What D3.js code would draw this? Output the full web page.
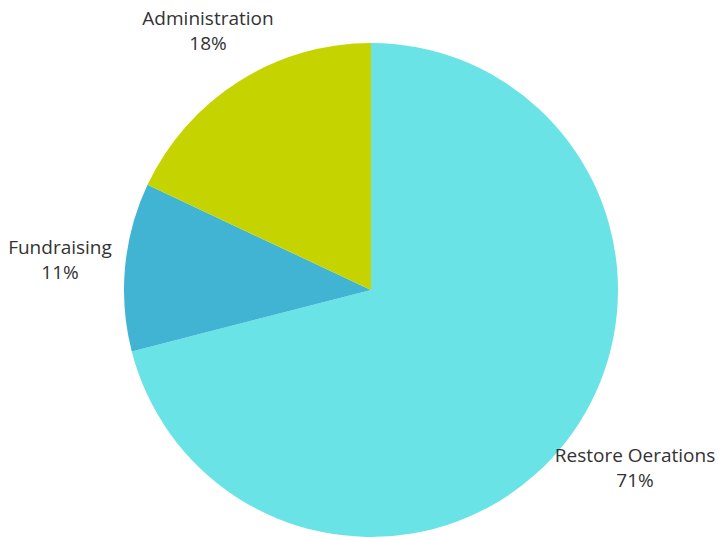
<!DOCTYPE html>
<html><head><meta charset="utf-8">
<script src="https://cdn.jsdelivr.net/npm/d3@7"></script>
<style>body{margin:0;background:#fff;}svg{display:block;}</style>
</head><body>
<svg id="c" width="718" height="537"></svg>
<script>
const categories = ["Restore Oerations", "Fundraising", "Administration"];
const values = [71, 11, 18];
const colors = ["#6ae3e6", "#41b4d3", "#c5d400"];
const labelPos = [[635, 462], [60, 254], [208, 25]];

const svg = d3.select("#c");
const cx = 371, cy = 290, r = 247;
const pie = d3.pie().sort(null).value(d => d.v);
const data = categories.map((c, i) => ({c, v: values[i], i}));
const arcs = pie(data);
const arc = d3.arc().innerRadius(0).outerRadius(r);
const g = svg.append("g").attr("transform", `translate(${cx},${cy})`);
g.selectAll("path").data(arcs).enter().append("path")
  .attr("d", arc).attr("fill", d => colors[d.data.i]);

const t = svg.selectAll("text.lbl").data(data).enter().append("text")
  .attr("class", "lbl")
  .attr("text-anchor", "middle")
  .attr("font-family", "'Open Sans', sans-serif")
  .attr("font-size", 19)
  .attr("fill", "#333");
t.append("tspan").attr("x", d => labelPos[d.i][0]).attr("y", d => labelPos[d.i][1]).text(d => d.c);
t.append("tspan").attr("x", d => labelPos[d.i][0]).attr("y", d => labelPos[d.i][1] + 25).text(d => d.v + "%");
</script>
</body></html>
